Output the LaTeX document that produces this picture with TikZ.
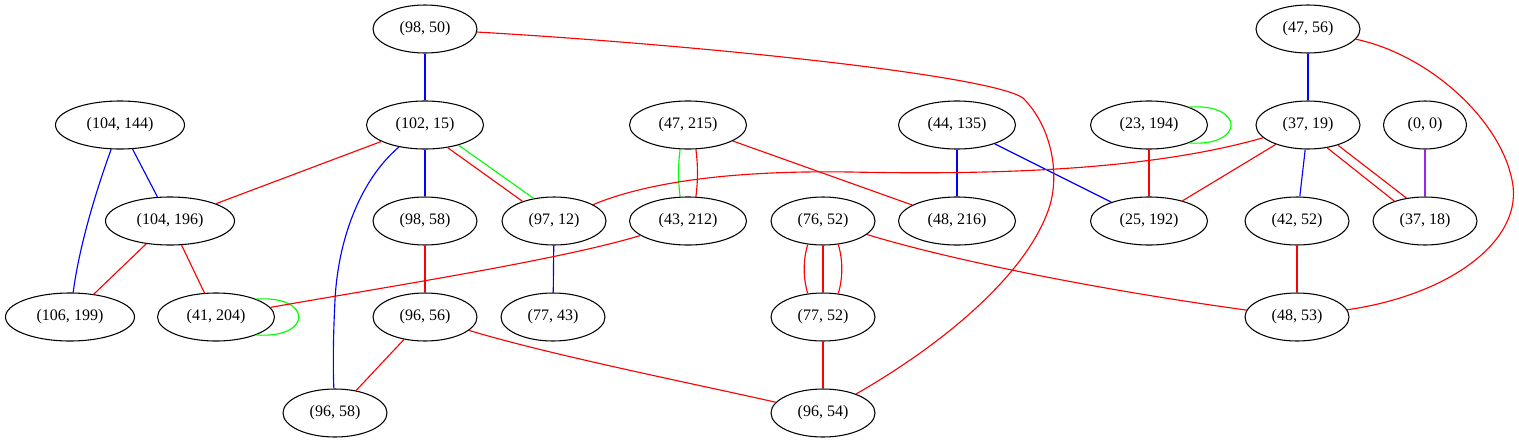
\documentclass[tikz,border=0pt]{standalone}
\usepackage{fontspec}
\setmainfont{Liberation Serif}
\usetikzlibrary{shapes.geometric}
\definecolor{gvred}{RGB}{255,0,0}
\definecolor{gvblue}{RGB}{0,0,255}
\definecolor{gvgreen}{RGB}{0,255,0}
\definecolor{gvpurple}{RGB}{160,32,240}
\begin{document}
\begin{tikzpicture}[x=0.75pt,y=-0.75pt,
  gvnode/.style={draw, ellipse, minimum height=36pt, inner sep=0pt, line width=0.8pt,
    font=\fontsize{12}{14}\selectfont},
  wa/.style={gvnode, minimum width=78pt},
  wb/.style={gvnode, minimum width=87.75pt},
  wc/.style={gvnode, minimum width=96.75pt},
  wd/.style={gvnode, minimum width=62.25pt},
  ed/.style={line width=0.85pt},
  er/.style={ed, draw=gvred},
  eb/.style={ed, draw=gvblue},
  eg/.style={ed, draw=gvgreen},
  ep/.style={ed, draw=gvpurple}]
\useasboundingbox (0,0) rectangle (1519,443);
\fill[white] (0,0) rectangle (1519,443);
% nodes
\node[wa] (a9850)   at (425,29)  {(98, 50)};
\node[wa] (a4756)   at (1308,29) {(47, 56)};
\node[wc] (a104144) at (120,125) {(104, 144)};
\node[wb] (a10215)  at (425,125) {(102, 15)};
\node[wb] (a47215)  at (688,125) {(47, 215)};
\node[wb] (a44135)  at (957,125) {(44, 135)};
\node[wb] (a23194)  at (1149,125) {(23, 194)};
\node[wa] (a3719)   at (1308,125) {(37, 19)};
\node[wd] (a00)     at (1425,125) {(0, 0)};
\node[wc] (a104196) at (170,221) {(104, 196)};
\node[wa] (a9858)   at (425,221) {(98, 58)};
\node[wa] (a9712)   at (554,221) {(97, 12)};
\node[wb] (a43212)  at (688,221) {(43, 212)};
\node[wa] (a7652)   at (823,221) {(76, 52)};
\node[wb] (a48216)  at (957,221) {(48, 216)};
\node[wb] (a25192)  at (1149,221) {(25, 192)};
\node[wa] (a4252)   at (1297,221) {(42, 52)};
\node[wa] (a3718)   at (1425,221) {(37, 18)};
\node[wc] (a106199) at (70,317)  {(106, 199)};
\node[wb] (a41204)  at (216,317) {(41, 204)};
\node[wa] (a9656)   at (425,317) {(96, 56)};
\node[wa] (a7743)   at (553,317) {(77, 43)};
\node[wa] (a7752)   at (823,317) {(77, 52)};
\node[wa] (a4853)   at (1297,317) {(48, 53)};
\node[wa] (a9658)   at (335,413) {(96, 58)};
\node[wa] (a9654)   at (823,413) {(96, 54)};
% blue edges
\draw[eb] (a9850) -- (a10215);
\draw[eb] (a4756) -- (a3719);
\draw[eb] (a104144) -- (a104196);
\draw[eb] (a104144) .. controls (100,180) and (80,240) .. (a106199);
\draw[eb] (a10215) -- (a9858);
\draw[eb] (a10215) .. controls (360,180) and (338,240) .. (335,300) .. controls (333,340) and (333,370) .. (a9658);
\draw[eb] (a9712) -- (a7743);
\draw[eb] (a44135) -- (a48216);
\draw[eb] (a44135) -- (a25192);
\draw[eb] (a3719) -- (a4252);
% purple
\draw[ep] (a00) -- (a3718);
% green
\draw[eg] (a10215.-31) -- (a9712.132);
\draw[eg] (a47215.-108) .. controls (678,165) and (678,181) .. (a43212.108);
\draw[eg] (a23194.24) .. controls (1245,103) and (1245,147) .. (a23194.-24);
\draw[eg] (a41204.24) .. controls (313,295) and (313,339) .. (a41204.-24);
% red edges
\draw[er] (a9850) .. controls (700,45) and (990,75) .. (1023,98) .. controls (1050,125) and (1060,170) .. (1050,205) .. controls (1030,270) and (950,340) .. (a9654);
\draw[er] (a4756) .. controls (1430,55) and (1500,120) .. (1512,180) .. controls (1525,240) and (1450,295) .. (a4853);
\draw[er] (a10215) -- (a104196);
\draw[er] (a10215.-45) -- (a9712.148);
\draw[er] (a47215.-72) .. controls (698,165) and (698,181) .. (a43212.72);
\draw[er] (a47215) -- (a48216);
\draw[er] (a23194) -- (a25192);
\draw[er] (a3719) .. controls (1150,170) and (1000,175) .. (850,172) .. controls (720,170) and (640,185) .. (a9712);
\draw[er] (a3719) -- (a25192);
\draw[er] (a3719.-50) -- (a3718.147);
\draw[er] (a3719.-34) -- (a3718.129);
\draw[er] (a104196) -- (a106199);
\draw[er] (a104196) -- (a41204);
\draw[er] (a43212) .. controls (560,260) and (380,288) .. (a41204);
\draw[er] (a9858) -- (a9656);
\draw[er] (a7652.-123) .. controls (803,260) and (803,278) .. (a7752.123);
\draw[er] (a7652) -- (a7752);
\draw[er] (a7652.-57) .. controls (843,260) and (843,278) .. (a7752.57);
\draw[er] (a7652) .. controls (950,260) and (1100,290) .. (a4853);
\draw[er] (a9656) -- (a9658);
\draw[er] (a9656) .. controls (550,355) and (700,385) .. (a9654);
\draw[er] (a7752) -- (a9654);
\draw[er] (a4252) -- (a4853);
\end{tikzpicture}
\end{document}
